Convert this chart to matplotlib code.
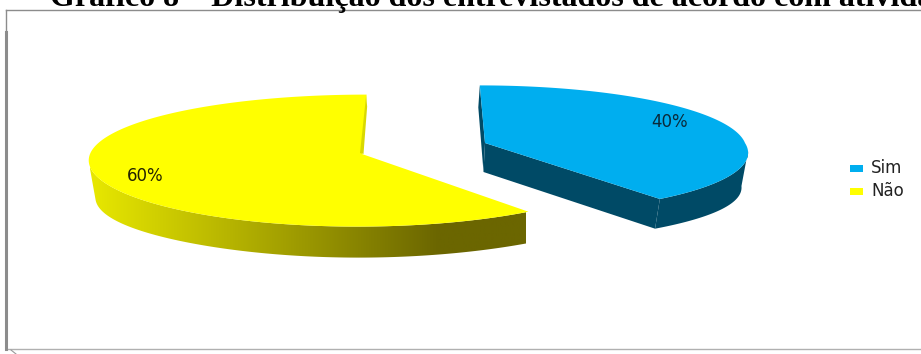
import numpy as np
import matplotlib
matplotlib.use("Agg")
import matplotlib.pyplot as plt
from matplotlib.patches import Polygon, Rectangle

title = "Gráfico 8 – Distribuição dos entrevistados de acordo com atividade"
categories = ["Sim", "Não"]
values = [40, 60]
labels = ["40%", "60%"]

W, H = 921, 354
XV = 420      # where the perspective converges

fig = plt.figure(figsize=(W / 100, H / 100), dpi=100)
ax = fig.add_axes([0, 0, 1, 1])
ax.set_xlim(0, W)
ax.set_ylim(H, 0)
ax.axis("off")


def project(cx, cy, a, b, ang, depth=0, low=0.08):
    u = np.cos(ang)
    v = np.sin(ang)
    tilt = np.where(v < 0, low, 0.08)
    x = XV + (cx + a * u - XV) * (1 - tilt * v)
    y = cy - b * v * (1 - 0.1 * v)
    if depth:
        x = XV + (x - XV) * 0.98
        y = y + depth + 6 * u ** 4
    return x, y


def wedge_angles(value, clockwise):
    sweep = np.deg2rad(value / sum(values) * 360)
    if clockwise:
        return np.linspace(np.pi / 2, np.pi / 2 - sweep, 300)
    return np.linspace(np.pi / 2, np.pi / 2 + sweep, 300)


def pts(x, y):
    return np.column_stack([x, y])


# Nao slice, yellow
cx, cy, a, b, d = 362, 154, 272, 66, 31
ang = wedge_angles(values[1], False)
x0, y0 = project(cx, cy, a, b, ang)
x1, y1 = project(cx, cy, a, b, ang, d)
# outer wall only where it faces the viewer
front = np.sin(ang) < -0.12
wall = np.vstack([pts(x0[front], y0[front]), pts(x1[front], y1[front])[::-1]])
poly = Polygon(wall, closed=True, fc="none", ec="none", zorder=2)
ax.add_patch(poly)
grad = np.linspace(0, 1, 256).reshape(1, -1)
cmap = matplotlib.colors.LinearSegmentedColormap.from_list(
    "side", [(0, "#e8e800"), (0.8, "#6b6600"), (1, "#6b6600")])
im = ax.imshow(grad, extent=[90, 525, H, 0], cmap=cmap, aspect="auto", zorder=2)
im.set_clip_path(poly)
ax.set_xlim(0, W)
ax.set_ylim(H, 0)
ax.add_patch(Polygon(np.vstack([[(cx, cy)], pts(x0, y0)]), closed=True,
                     fc="#ffff00", ec="none", zorder=3))
# inner face sliver
ax.add_patch(Polygon([(x0[0] - 0.5, y0[0] + 1), (x0[0] + 0.5, y0[0] + 12), (cx + 1.5, cy), (cx - 2, cy - 1)],
                     closed=True, fc="#d9d900", ec="none", zorder=4))

# Sim slice, blue
cx, cy, a, b, d = 485, 143, 260, 64, 29
ang = wedge_angles(values[0], True)
x0, y0 = project(cx, cy, a, b, ang, low=0.125)
x1, y1 = project(cx, cy, a, b, ang, d, low=0.125)
front = np.sin(ang) < -0.12
wall = np.vstack([pts(x0[front], y0[front]), pts(x1[front], y1[front])[::-1]])
ax.add_patch(Polygon(wall, closed=True, fc="#004a66", ec="none", zorder=2))
# cut face running from centre to the front tip
ax.add_patch(Polygon([(cx, cy), (x0[-1], y0[-1]), (x1[-1], y1[-1]), (cx - 1.5, cy + d)],
                     closed=True, fc="#004a66", ec="none", zorder=2))
ax.add_patch(Polygon([(x0[0], y0[0]), (x0[0] - 1.5, y0[0] + 22), (cx - 1.5, cy + d), (cx, cy)],
                     closed=True, fc="#004a66", ec="none", zorder=2))
ax.add_patch(Polygon(np.vstack([[(cx, cy)], pts(x0, y0)]), closed=True,
                     fc="#00aeef", ec="none", zorder=3))

# data labels
ax.text(670, 122, labels[0], ha="center", va="center", fontsize=12, color="#0a2a3a", zorder=5)
ax.text(145, 176, labels[1], ha="center", va="center", fontsize=12, color="#222200", zorder=5)

# legend
colors = ["#00aeef", "#ffff00"]
for cat, col, yy in zip(categories, colors, [168, 191]):
    ax.add_patch(Rectangle((850, yy - 3), 13, 7, fc=col, ec="none", zorder=4))
    ax.text(871, yy, cat, ha="left", va="center", fontsize=12, color="#222222", zorder=4)

# chart frame
ax.plot([6, W], [10, 10], color="#8c8c8c", lw=1, zorder=1)
ax.plot([6, W], [349, 349], color="#b0b0b0", lw=1, zorder=1)
ax.plot([6, 6], [10, 32], color="#8c8c8c", lw=1, zorder=1)
ax.plot([6, 6], [32, 349], color="#8c8c8c", lw=2.2, zorder=1)
ax.plot([11, 16], [350, 354], color="#999999", lw=0.8, zorder=1)

ax.text(50, 6, title, family="Liberation Serif", weight="bold", fontsize=23,
        ha="left", va="baseline", color="black", zorder=5, clip_on=True)

fig.savefig("out.png", dpi=100)
